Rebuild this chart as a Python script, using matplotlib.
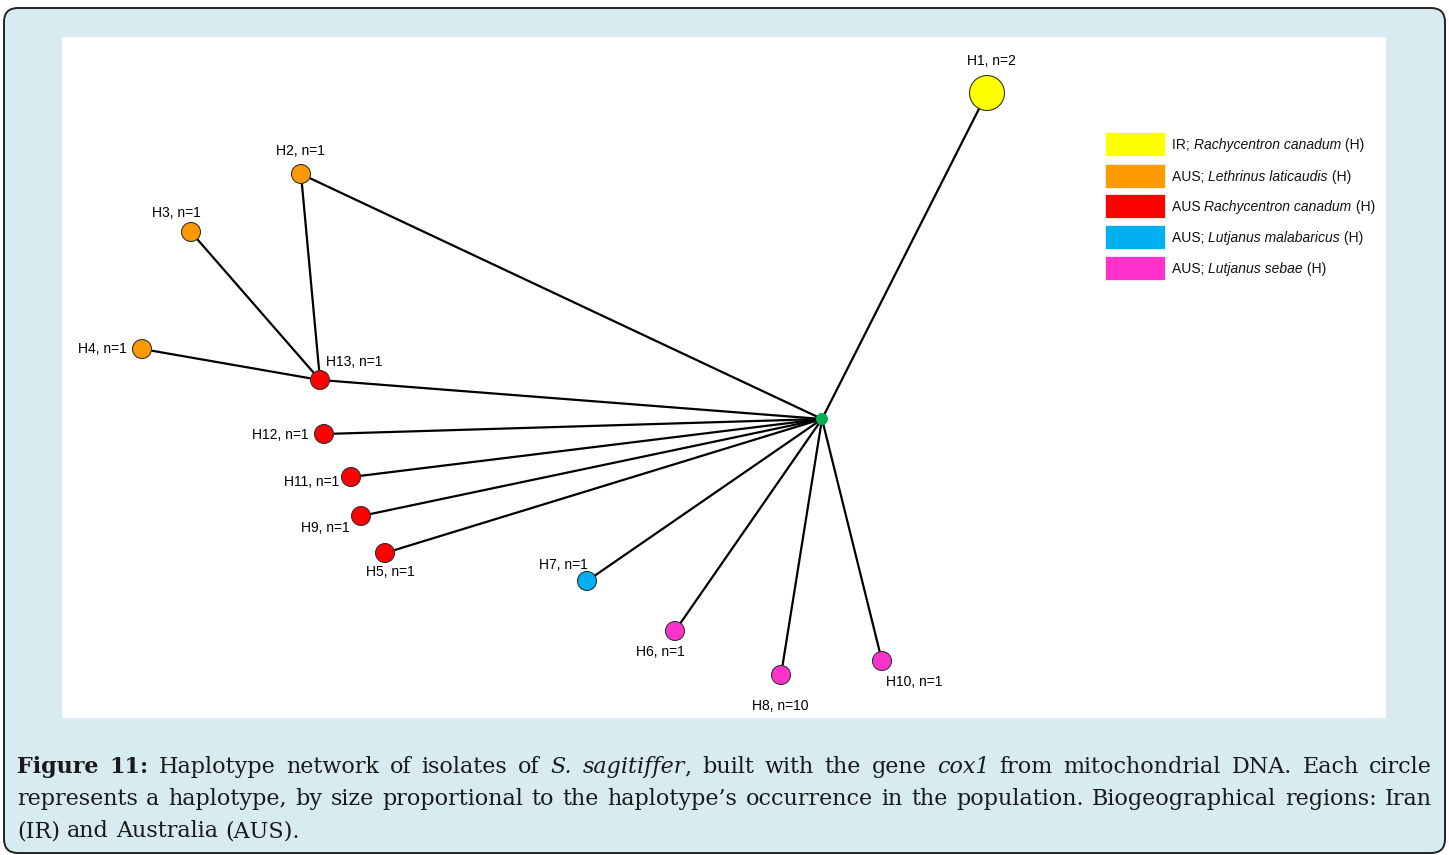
import matplotlib
matplotlib.use("Agg")
import matplotlib.pyplot as plt
from matplotlib.patches import Circle, Rectangle, FancyBboxPatch
from matplotlib.transforms import IdentityTransform

W, H = 1449, 855

# haplotype network (layout, pixel units)
names = ["H1", "H2", "H3", "H4", "H5", "H6", "H7", "H8", "H9", "H10", "H11", "H12", "H13"]
counts = [2, 1, 1, 1, 1, 1, 1, 10, 1, 1, 1, 1, 1]
groups = ["IR_rc", "AUS_ll", "AUS_ll", "AUS_ll", "AUS_rc", "AUS_ls", "AUS_lm", "AUS_ls",
          "AUS_rc", "AUS_ls", "AUS_rc", "AUS_rc", "AUS_rc"]
node_x = [987, 301, 191, 142, 385, 675, 587, 781, 361, 882, 351, 324, 320]
node_y = [93, 174, 232, 349, 553, 631, 581, 675, 516, 661, 477, 434, 380]
label_x = [991, 300, 176, 102, 390, 660, 563, 780, 325, 914, 312, 280, 354]
label_y = [61, 151, 213, 349, 572, 652, 565, 706, 528, 682, 482, 435, 362]
hub = (822, 419)
hub_links = ["H1", "H2", "H13", "H12", "H11", "H9", "H5", "H7", "H6", "H8", "H10"]
other_links = [("H13", "H2"), ("H13", "H3"), ("H13", "H4")]

legend_keys = ["IR_rc", "AUS_ll", "AUS_rc", "AUS_lm", "AUS_ls"]
legend_runs = [
    [("IR; ", "normal"), ("Rachycentron canadum", "italic"), (" (H)", "normal")],
    [("AUS; ", "normal"), ("Lethrinus laticaudis", "italic"), (" (H)", "normal")],
    [("AUS ", "normal"), ("Rachycentron canadum", "italic"), (" (H)", "normal")],
    [("AUS; ", "normal"), ("Lutjanus malabaricus", "italic"), (" (H)", "normal")],
    [("AUS; ", "normal"), ("Lutjanus sebae", "italic"), (" (H)", "normal")],
]
colors = {"IR_rc": "#ffff00", "AUS_ll": "#ff9900", "AUS_rc": "#ff0000",
          "AUS_lm": "#00b0f0", "AUS_ls": "#ff33cc"}

fig = plt.figure(figsize=(W / 100, H / 100), dpi=100)
fig.patch.set_facecolor("white")

# outer rounded frame
frame = FancyBboxPatch((4, 2), 1441, 845, boxstyle="round,pad=0,rounding_size=14",
                       transform=IdentityTransform(), facecolor="#d7ebf0",
                       edgecolor="#222222", linewidth=1.4, zorder=-5)
fig.patches.append(frame)

x0, x1, y0, y1 = 62, 1386, 37, 718
ax = fig.add_axes([x0 / W, 1 - y1 / H, (x1 - x0) / W, (y1 - y0) / H])
ax.set_zorder(1)
ax.set_xlim(x0, x1)
ax.set_ylim(y1, y0)
ax.set_xticks([])
ax.set_yticks([])
for s in ax.spines.values():
    s.set_visible(False)
ax.set_facecolor("white")

pos = dict(zip(names, zip(node_x, node_y)))
for n in hub_links:
    ax.plot([hub[0], pos[n][0]], [hub[1], pos[n][1]], color="black", lw=1.6, zorder=1)
for a, b in other_links:
    ax.plot([pos[a][0], pos[b][0]], [pos[a][1], pos[b][1]], color="black", lw=1.6, zorder=1)

for i, n in enumerate(names):
    r = 17.5 if n == "H1" else 9.5
    ax.add_patch(Circle(pos[n], r, facecolor=colors[groups[i]], edgecolor="#333333",
                        lw=0.8, zorder=3))
    ax.text(label_x[i], label_y[i], "%s, n=%d" % (n, counts[i]), ha="center", va="center",
            fontsize=10, family="Liberation Sans", zorder=4)
ax.add_patch(Circle(hub, 6, facecolor="#00b050", edgecolor="none", zorder=3))

fig.canvas.draw()
renderer = fig.canvas.get_renderer()


def draw_runs(x, y, runs, **kw):
    # draw pieces of text one after another, x/y in image pixels (baseline)
    for txt, style in runs:
        weight = "bold" if style == "bold" else "normal"
        fst = "italic" if style == "italic" else "normal"
        t = fig.text(x / W, 1 - y / H, txt, ha="left", va="baseline",
                     fontweight=weight, fontstyle=fst, zorder=5, **kw)
        x += t.get_window_extent(renderer).width
    return x


def width_runs(runs, **kw):
    w = 0
    for txt, style in runs:
        weight = "bold" if style == "bold" else "normal"
        fst = "italic" if style == "italic" else "normal"
        t = fig.text(0, 0, txt, fontweight=weight, fontstyle=fst, **kw)
        w += t.get_window_extent(renderer).width
        t.remove()
    return w


# legend
leg_y = [144, 176, 206, 237, 268]
for k, yy, runs in zip(legend_keys, leg_y, legend_runs):
    fig.patches.append(Rectangle((1105, H - yy - 12), 60, 24, transform=IdentityTransform(),
                                 facecolor=colors[k], edgecolor="white", lw=0.5, zorder=5))
    draw_runs(1172, yy + 5, runs, fontsize=10, family="Liberation Sans", color="#111111")

# caption
cap_kw = dict(fontsize=16, family="DejaVu Serif", color="#1a1a1a")
line1 = [[("Figure", "bold")], [("11:", "bold")], [("Haplotype", "n")], [("network", "n")],
         [("of", "n")], [("isolates", "n")], [("of", "n")], [("S.", "italic")],
         [("sagitiffer", "italic"), (",", "n")], [("built", "n")], [("with", "n")],
         [("the", "n")], [("gene", "n")], [("cox1", "italic")], [("from", "n")],
         [("mitochondrial", "n")], [("DNA.", "n")], [("Each", "n")], [("circle", "n")]]
line2 = [[(w, "n")] for w in ("represents a haplotype, by size proportional to the "
                              "haplotype\u2019s occurrence in the population. "
                              "Biogeographical regions: Iran").split()]
line3 = [[(w, "n")] for w in "(IR) and Australia (AUS).".split()]

left, right = 17, 1432
for words, base, justify in [(line1, 773, True), (line2, 805, True), (line3, 837, False)]:
    widths = [width_runs(wd, **cap_kw) for wd in words]
    if justify:
        gap = (right - left - sum(widths)) / (len(words) - 1)
    else:
        gap = width_runs([(" ", "n")], **cap_kw)
    x = left
    for wd, ww in zip(words, widths):
        draw_runs(x, base, wd, **cap_kw)
        x += ww + gap

fig.savefig("out.png", dpi=100)
